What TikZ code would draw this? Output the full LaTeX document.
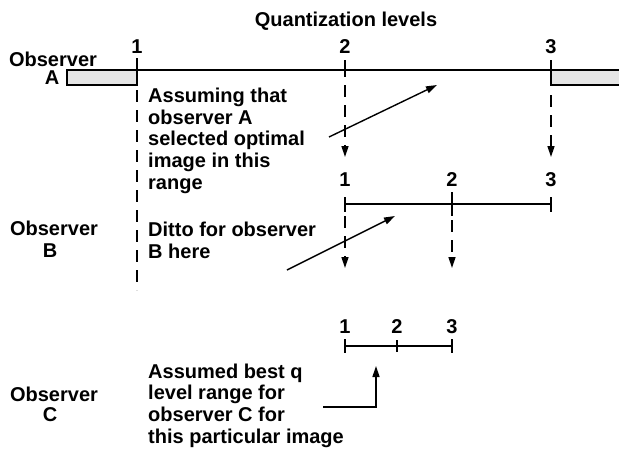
\documentclass[tikz,border=0pt]{standalone}
\usepackage{fontspec}
\setmainfont{Liberation Sans}
\usetikzlibrary{arrows.meta}
\begin{document}
\begin{tikzpicture}[x=1pt,y=-1pt,
  txt/.style={font=\bfseries\fontsize{20}{21.6}\selectfont, inner sep=0pt, align=left, anchor=base west},
  obs/.style={font=\bfseries\fontsize{20}{21.6}\selectfont, inner sep=0pt, anchor=base},
  num/.style={font=\bfseries\fontsize{20}{20}\selectfont, inner sep=0pt, anchor=base},
  axis/.style={line width=2pt},
  tickmark/.style={line width=2pt},
  dline/.style={line width=1.5pt, dash pattern=on 12pt off 8pt},
  arr/.style={line width=1.4pt, -{Triangle[length=11pt,width=7pt]}},
  dbox/.style={draw, line width=1.5pt, fill=black!10},
]
\useasboundingbox (0,0) rectangle (619,448);

% title
\node[num] (title) at (346,26) {Quantization levels};

% ---------- Observer A ----------
\node[obs] (obsA) at (53,66) {Observer};
\node[obs] (obsAl) at (52,84) {A};
\coordinate (a1) at (137,70);
\coordinate (a2) at (345,70);
\coordinate (a3) at (551,70);
\draw[dbox] (67,70) rectangle (137,85);
\draw[dbox] (551,70) rectangle (625,85);
\draw[axis] (a1) -- (a3);
\draw[tickmark] (137,58) -- (a1);
\draw[tickmark] (345,60) -- (345,77);
\draw[tickmark] (551,60) -- (a3);
\node[num] (na1) at (137,53) {1};
\node[num] (na2) at (345,53) {2};
\node[num] (na3) at (551,53) {3};

\coordinate (d1s) at (137,90);
\coordinate (d1e) at (137,290);
\draw[dline] (d1s) -- (d1e);
\coordinate (d2s) at (345,85);
\coordinate (d2e) at (345,157);
\draw[dline,arr] (d2s) -- (d2e);
\coordinate (d3s) at (551,95);
\coordinate (d3e) at (551,157);
\draw[dline,arr] (d3s) -- (d3e);

% base anchor of a multi-line node = baseline of its last line
\node[txt] (textA) at (148,189) {Assuming that\\observer A\\selected optimal\\image in this\\range};
\coordinate (arAs) at (329,137);
\coordinate (arAe) at (437,85);
\draw[arr] (arAs) -- (arAe);

% ---------- Observer B ----------
\node[obs] (obsB) at (54,235) {Observer};
\node[obs] (obsBl) at (50,257) {B};
\node[num] (nb1) at (345,186) {1};
\node[num] (nb2) at (452,186) {2};
\node[num] (nb3) at (551,186) {3};
\coordinate (b1) at (345,204);
\coordinate (b2) at (452,204);
\coordinate (b3) at (551,204);
\draw[axis] (b1) -- (b3);
\draw[tickmark] (345,197) -- (345,212);
\draw[tickmark] (551,197) -- (551,212);
\draw[line width=1.5pt] (452,192) -- (452,216);

\coordinate (e1s) at (345,216);
\coordinate (e1e) at (345,268);
\draw[dline,arr] (e1s) -- (e1e);
\coordinate (e2s) at (452,220);
\coordinate (e2e) at (452,268);
\draw[dline,arr] (e2s) -- (e2e);

\node[txt] (textB) at (148,258) {Ditto for observer\\B here};
\coordinate (arBs) at (287,270);
\coordinate (arBe) at (395,216);
\draw[arr] (arBs) -- (arBe);

% ---------- Observer C ----------
\node[obs] (obsC) at (54,401) {Observer};
\node[obs] (obsCl) at (50,421) {C};
\node[num] (nc1) at (345,333) {1};
\node[num] (nc2) at (397,333) {2};
\node[num] (nc3) at (452,333) {3};
\coordinate (c1) at (345,346);
\coordinate (c3) at (452,346);
\draw[axis] (c1) -- (c3);
\draw[tickmark] (345,339) -- (345,353);
\draw[tickmark] (452,339) -- (452,353);
\draw[line width=1.5pt] (397,340) -- (397,352);

\node[txt] (textC) at (148,443) {Assumed best q\\level range for\\observer C for\\this particular image};
\coordinate (arCs) at (323,407);
\coordinate (arCe) at (376,366);
\draw[arr] (arCs) -| (arCe);
\end{tikzpicture}
\end{document}
